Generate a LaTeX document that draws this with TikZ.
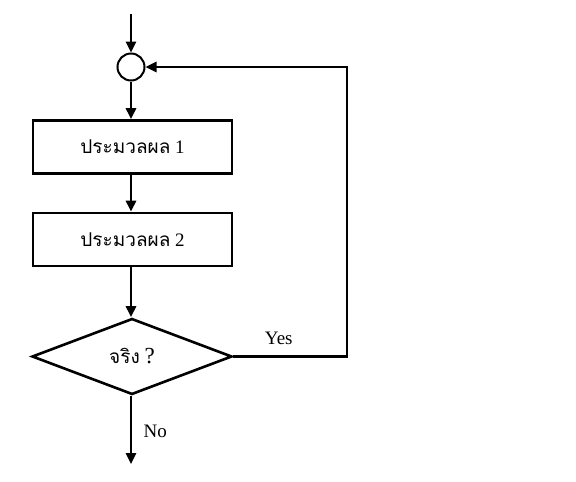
\documentclass[tikz,border=0pt]{standalone}
\usepackage{fontspec}
\setmainfont{Liberation Serif}
\newfontfamily\thaifont[Script=Thai]{Loma}
\usepackage{tikz}
\usetikzlibrary{shapes,arrows.meta,positioning,calc}

\begin{document}
\begin{tikzpicture}[x=1pt, y=-1pt, font=\fontsize{19}{22}\selectfont,
        box/.style={draw, line width=2.6pt, minimum width=199pt, minimum height=53pt, inner sep=0pt},
        decision/.style={draw, diamond, line width=2.6pt, aspect=2.6, minimum width=200pt, minimum height=76pt, inner sep=0pt},
        junction/.style={draw, circle, line width=2pt, minimum size=27pt, inner sep=0pt},
        flow/.style={line width=2.6pt, -{Triangle[length=11pt,width=10pt]}}]
        \useasboundingbox (0,0) rectangle (576,482);
        % Loop structure
        \coordinate (start) at (131,14);
        \node[junction] (join) at (131,67) {};
        \node[box] (proc1) at (132.5,147) {{\thaifont ประมวลผล} 1};
        \node[box] (proc2) at (132.5,239.5) {{\thaifont ประมวลผล} 2};
        \node[decision] (test) at (132,356.5) {{\thaifont จริง} {\fontsize{23}{26}\selectfont ?}};
        \coordinate (end) at (131,464);
        \coordinate (back) at (347,356.5);

        \draw[flow] (start) -- (join);
        \draw[flow] (join) -- (join |- proc1.north);
        \draw[flow] (join |- proc1.south) -- (join |- proc2.north);
        \draw[flow] (join |- proc2.south) -- (join |- test.north);
        \draw[flow] (join |- test.south) -- (end) node[pos=0.52, right=8pt] {No};
        \draw[flow] (test.east) -- (back) node[pos=0.4, above=7pt] {Yes} |- (join.east);
    \end{tikzpicture}
\end{document}
